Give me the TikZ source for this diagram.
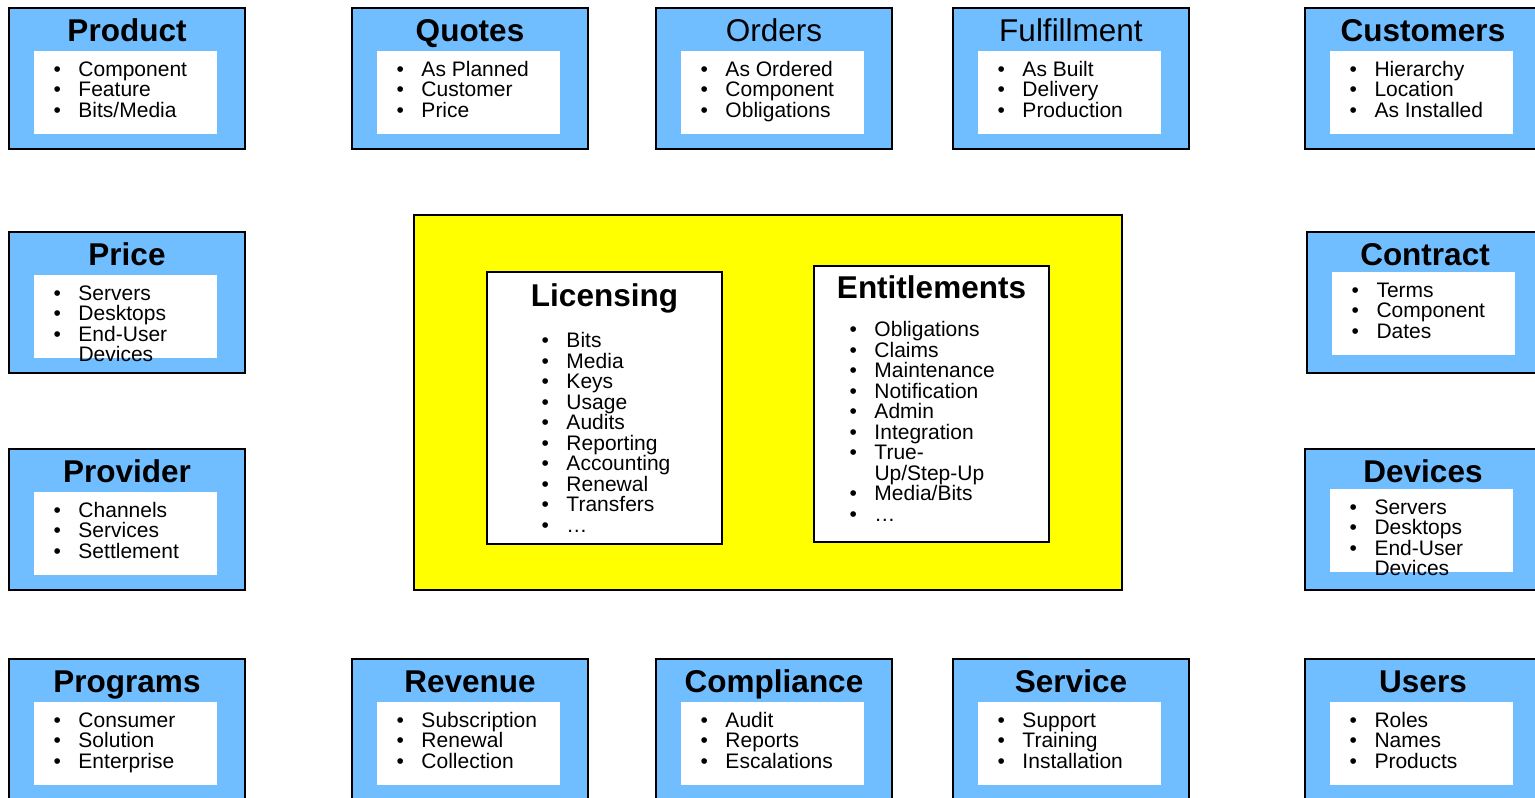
\documentclass[tikz,border=0pt]{standalone}
\usepackage{fontspec}
\setmainfont{Liberation Sans}
\usepackage{tikz}
\usetikzlibrary{positioning}
\definecolor{mblue}{RGB}{112,189,255}
\definecolor{myellow}{RGB}{255,255,0}
\newcommand{\bul}{\makebox[25pt][l]{\textbullet}}
\newcommand{\nobul}{\makebox[25pt][l]{}}
\tikzset{
  catbox/.style={draw=black, line width=1.5pt, fill=mblue},
  framebox/.style={draw=black, line width=1.5pt},
  boxtitle/.style={anchor=base, inner sep=0pt, font=\fontsize{31.5}{36}\selectfont},
  itemlist/.style={anchor=north west, inner sep=0pt, align=left, font=\fontsize{21}{20.5}\selectfont}
}
% #1 name, #2 x, #3 y, #4 offset of the white panel, #5 title, #6 items
\newcommand{\catblock}[6]{%
  \draw [catbox] (#2,#3) rectangle ++(236,141);
  \fill [white] (#2+25,#3+#4) rectangle ++(183,83);
  \node (#1) [boxtitle] at (#2+118,#3+33) {#5};
  \node (#1-list) [itemlist] at (#2+44.3,#3+#4+7) {\rule{0pt}{18pt}#6};
}

\begin{document}
\begin{tikzpicture}[x=1pt, y=-1pt]
  \useasboundingbox (0,0) rectangle (1535,798);

  \catblock{product}{9}{8}{43}{\bfseries Product}{\bul Component\\\bul Feature\\\bul Bits/Media}
  \catblock{quotes}{352}{8}{43}{\bfseries Quotes}{\bul As Planned\\\bul Customer\\\bul Price}
  \catblock{orders}{656}{8}{43}{Orders}{\bul As Ordered\\\bul Component\\\bul Obligations}
  \catblock{fulfil}{953}{8}{43}{Fulfillment}{\bul As Built\\\bul Delivery\\\bul Production}
  \catblock{customers}{1305}{8}{43}{\bfseries Customers}{\bul Hierarchy\\\bul Location\\\bul As Installed}

  \catblock{price}{9}{232}{43}{\bfseries Price}{\bul Servers\\\bul Desktops\\\bul End-User\\\nobul Devices}
  \catblock{contract}{1307}{232}{40}{\bfseries Contract}{\bul Terms\\\bul Component\\\bul Dates}
  \catblock{provider}{9}{449}{43}{\bfseries Provider}{\bul Channels\\\bul Services\\\bul Settlement}
  \catblock{devices}{1305}{449}{40}{\bfseries Devices}{\bul Servers\\\bul Desktops\\\bul End-User\\\nobul Devices}

  \catblock{programs}{9}{659}{43}{\bfseries Programs}{\bul Consumer\\\bul Solution\\\bul Enterprise}
  \catblock{revenue}{352}{659}{43}{\bfseries Revenue}{\bul Subscription\\\bul Renewal\\\bul Collection}
  \catblock{compliance}{656}{659}{43}{\bfseries Compliance}{\bul Audit\\\bul Reports\\\bul Escalations}
  \catblock{service}{953}{659}{43}{\bfseries Service}{\bul Support\\\bul Training\\\bul Installation}
  \catblock{users}{1305}{659}{43}{\bfseries Users}{\bul Roles\\\bul Names\\\bul Products}

  \draw [framebox, fill=myellow] (414,215) rectangle (1122,590);
  \draw [framebox, fill=white] (487,272) rectangle (722,544);
  \draw [framebox, fill=white] (814,266) rectangle (1049,542);

  \node (lic) [boxtitle] at (604.5,306) {\bfseries Licensing};
  \node (lic-list) [itemlist] at (541.3,329.7) {\rule{0pt}{18pt}\bul Bits\\\bul Media\\\bul Keys\\\bul Usage\\\bul Audits\\\bul Reporting\\\bul Accounting\\\bul Renewal\\\bul Transfers\\\bul …};

  \node (ent) [boxtitle] at (931.5,298) {\bfseries Entitlements};
  \node (ent-list) [itemlist] at (849.3,318.7) {\rule{0pt}{18pt}\bul Obligations\\\bul Claims\\\bul Maintenance\\\bul Notification\\\bul Admin\\\bul Integration\\\bul True-\\\nobul Up/Step-Up\\\bul Media/Bits\\\bul …};
\end{tikzpicture}
\end{document}
